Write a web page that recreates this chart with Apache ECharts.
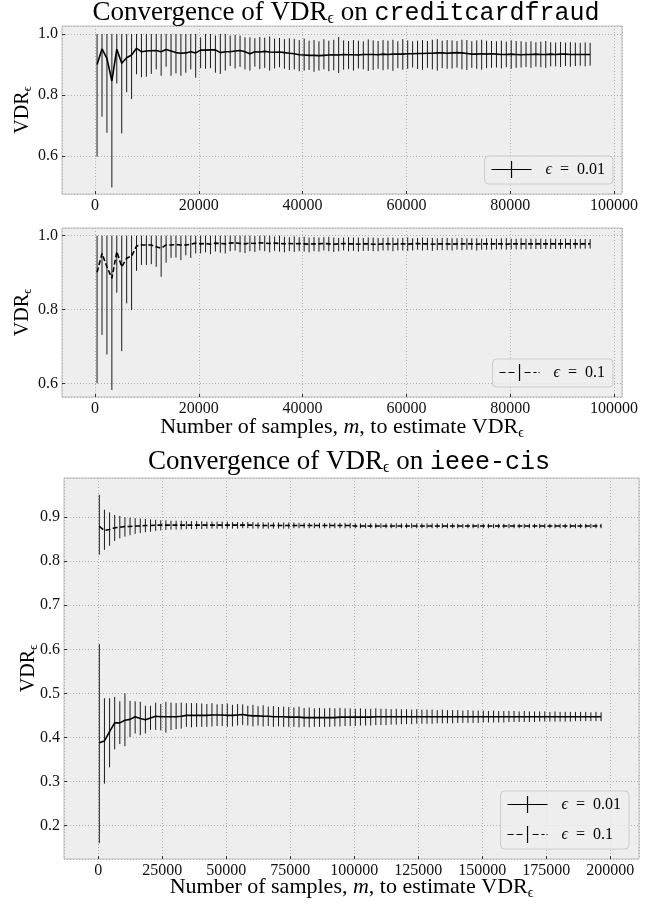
<!DOCTYPE html>
<html><head><meta charset="utf-8">
<script src="https://cdn.jsdelivr.net/npm/echarts@6/dist/echarts.min.js"></script>
<style>html,body{margin:0;padding:0;background:#fff}#chart{width:662px;height:904px}</style>
</head><body><div id="chart"></div>
<script>
// ---------- DATA ----------
// creditcardfraud: sample counts m
const xCredit = [
400,1350,2300,3250,4200,5150,6100,7050,8000,8950,
9900,10850,11800,12750,13700,14650,15600,16550,17500,18450,
19400,20350,21300,22250,23200,24150,25100,26050,27000,27950,
28900,29850,30800,31750,32700,33650,34600,35550,36500,37450,
38400,39350,40300,41250,42200,43150,44100,45050,46000,46950,
47900,48850,49800,50750,51700,52650,53600,54550,55500,56450,
57400,58350,59300,60250,61200,62150,63100,64050,65000,65950,
66900,67850,68800,69750,70700,71650,72600,73550,74500,75450,
76400,77350,78300,79250,80200,81150,82100,83050,84000,84950,
85900,86850,87800,88750,89700,90650,91600,92550,93500,94450,
95400];
// creditcardfraud, eps = 0.01
const creditE001Mean = [
0.900,0.951,0.920,0.846,0.950,0.904,0.922,0.931,0.953,0.942,
0.944,0.945,0.946,0.942,0.949,0.944,0.939,0.937,0.938,0.942,
0.938,0.947,0.947,0.948,0.948,0.939,0.942,0.942,0.944,0.946,
0.942,0.935,0.942,0.941,0.943,0.941,0.940,0.941,0.939,0.937,
0.935,0.932,0.931,0.930,0.930,0.929,0.930,0.931,0.932,0.931,
0.933,0.932,0.932,0.931,0.933,0.933,0.933,0.932,0.934,0.933,
0.934,0.934,0.934,0.935,0.935,0.936,0.936,0.937,0.937,0.938,
0.938,0.937,0.938,0.939,0.938,0.936,0.934,0.934,0.935,0.934,
0.935,0.934,0.933,0.933,0.934,0.933,0.932,0.933,0.933,0.934,
0.933,0.933,0.934,0.933,0.934,0.934,0.933,0.933,0.933,0.933,
0.933];
const creditE001Low = [
0.598,0.729,0.676,0.497,0.838,0.674,0.809,0.787,0.868,0.858,
0.860,0.869,0.884,0.863,0.893,0.863,0.871,0.863,0.873,0.884,
0.857,0.888,0.886,0.888,0.873,0.869,0.880,0.895,0.887,0.892,
0.884,0.880,0.893,0.885,0.889,0.880,0.887,0.891,0.886,0.882,
0.884,0.878,0.880,0.882,0.876,0.880,0.884,0.878,0.881,0.872,
0.883,0.885,0.880,0.887,0.884,0.879,0.882,0.886,0.881,0.884,
0.879,0.888,0.883,0.886,0.890,0.885,0.883,0.889,0.884,0.880,
0.888,0.886,0.887,0.890,0.884,0.882,0.889,0.886,0.883,0.888,
0.889,0.890,0.887,0.891,0.886,0.889,0.890,0.892,0.889,0.893,
0.891,0.889,0.894,0.894,0.892,0.895,0.893,0.895,0.896,0.894,
0.896];
const creditE001High = [
1,1,1,1,1,1,1,1,1,1,
1,1,1,1,1,1,1,1,1,1,
1,0.989,1,1,0.995,1,1,0.995,0.997,0.995,
0.989,0.989,0.986,0.990,0.988,0.992,0.985,0.987,0.983,0.986,
0.984,0.980,0.985,0.978,0.980,0.976,0.983,0.978,0.981,0.990,
0.979,0.977,0.980,0.978,0.976,0.982,0.979,0.977,0.980,0.978,
0.981,0.976,0.983,0.979,0.976,0.978,0.980,0.977,0.981,0.983,
0.978,0.980,0.979,0.977,0.981,0.980,0.976,0.979,0.981,0.978,
0.977,0.976,0.978,0.975,0.979,0.977,0.976,0.974,0.976,0.973,
0.975,0.977,0.973,0.972,0.974,0.972,0.973,0.972,0.971,0.972,
0.971];
// creditcardfraud, eps = 0.1
const creditE01Mean = [
0.901,0.952,0.916,0.885,0.957,0.916,0.939,0.945,0.972,0.975,
0.975,0.975,0.970,0.966,0.975,0.975,0.976,0.975,0.975,0.977,
0.980,0.978,0.979,0.977,0.980,0.979,0.978,0.980,0.981,0.979,
0.978,0.980,0.979,0.981,0.980,0.979,0.980,0.979,0.978,0.979,
0.978,0.979,0.978,0.977,0.978,0.978,0.979,0.978,0.977,0.978,
0.979,0.978,0.978,0.977,0.978,0.978,0.977,0.977,0.978,0.978,
0.977,0.978,0.978,0.977,0.978,0.979,0.978,0.978,0.977,0.978,
0.978,0.978,0.977,0.978,0.978,0.978,0.978,0.977,0.978,0.978,
0.978,0.978,0.978,0.977,0.978,0.978,0.978,0.978,0.978,0.978,
0.978,0.978,0.978,0.978,0.978,0.978,0.978,0.978,0.978,0.978,
0.978];
const creditE01Low = [
0.601,0.732,0.679,0.583,0.846,0.688,0.817,0.799,0.905,0.921,
0.921,0.923,0.916,0.889,0.927,0.940,0.941,0.934,0.947,0.940,
0.952,0.952,0.955,0.950,0.957,0.954,0.952,0.958,0.960,0.955,
0.953,0.958,0.956,0.960,0.958,0.955,0.959,0.957,0.955,0.958,
0.956,0.958,0.957,0.955,0.958,0.957,0.960,0.958,0.956,0.958,
0.960,0.958,0.959,0.957,0.959,0.959,0.958,0.958,0.960,0.960,
0.958,0.960,0.960,0.959,0.960,0.962,0.960,0.961,0.959,0.961,
0.961,0.961,0.960,0.962,0.961,0.962,0.962,0.960,0.962,0.962,
0.962,0.963,0.963,0.962,0.963,0.963,0.963,0.963,0.964,0.964,
0.964,0.964,0.964,0.964,0.964,0.965,0.964,0.965,0.965,0.965,
0.965];
const creditE01High = [
1,1,1,1,1,1,1,1,1,1,
1,1,1,1,1,1,1,1,1,1,
1,1,1,1,1,1,1,1,1,1,
1,1,0.999,1,1,1,0.998,1,0.997,0.996,
0.998,0.996,0.997,0.995,0.996,0.995,0.996,0.997,0.995,0.994,
0.995,0.996,0.995,0.995,0.994,0.995,0.995,0.994,0.994,0.995,
0.995,0.993,0.994,0.995,0.993,0.994,0.995,0.994,0.994,0.993,
0.994,0.994,0.993,0.993,0.994,0.993,0.993,0.993,0.992,0.993,
0.993,0.992,0.993,0.993,0.992,0.992,0.993,0.992,0.992,0.992,
0.992,0.991,0.992,0.992,0.991,0.992,0.991,0.991,0.991,0.991,
0.991];
// ieee-cis: sample counts m
const xIeee = [
400,2400,4400,6400,8400,10400,12400,14400,16400,18400,
20400,22400,24400,26400,28400,30400,32400,34400,36400,38400,
40400,42400,44400,46400,48400,50400,52400,54400,56400,58400,
60400,62400,64400,66400,68400,70400,72400,74400,76400,78400,
80400,82400,84400,86400,88400,90400,92400,94400,96400,98400,
100400,102400,104400,106400,108400,110400,112400,114400,116400,118400,
120400,122400,124400,126400,128400,130400,132400,134400,136400,138400,
140400,142400,144400,146400,148400,150400,152400,154400,156400,158400,
160400,162400,164400,166400,168400,170400,172400,174400,176400,178400,
180400,182400,184400,186400,188400,190400,192400,194400,196400];
// ieee-cis, eps = 0.01
const ieeeE001Mean = [
0.388,0.392,0.413,0.433,0.433,0.439,0.441,0.447,0.443,0.440,
0.444,0.448,0.447,0.447,0.447,0.447,0.448,0.450,0.450,0.450,
0.450,0.450,0.451,0.451,0.451,0.450,0.450,0.451,0.452,0.450,
0.449,0.449,0.448,0.448,0.447,0.447,0.447,0.446,0.446,0.446,
0.445,0.445,0.445,0.445,0.445,0.445,0.445,0.446,0.446,0.446,
0.446,0.446,0.446,0.446,0.447,0.447,0.447,0.447,0.447,0.447,
0.447,0.447,0.447,0.447,0.447,0.447,0.447,0.447,0.447,0.447,
0.447,0.447,0.447,0.447,0.447,0.447,0.447,0.447,0.447,0.447,
0.447,0.447,0.447,0.447,0.447,0.447,0.447,0.447,0.447,0.447,
0.447,0.447,0.447,0.447,0.447,0.447,0.447,0.447,0.447];
const ieeeE001Low = [
0.160,0.295,0.332,0.373,0.385,0.380,0.401,0.409,0.405,0.409,
0.417,0.417,0.416,0.411,0.417,0.419,0.420,0.424,0.423,0.424,
0.424,0.424,0.425,0.426,0.426,0.424,0.425,0.427,0.428,0.427,
0.425,0.427,0.425,0.426,0.424,0.425,0.424,0.424,0.424,0.423,
0.424,0.423,0.424,0.424,0.424,0.424,0.425,0.425,0.426,0.426,
0.426,0.427,0.427,0.427,0.428,0.428,0.428,0.429,0.429,0.430,
0.430,0.430,0.431,0.431,0.431,0.431,0.432,0.432,0.432,0.432,
0.433,0.433,0.433,0.433,0.433,0.434,0.434,0.434,0.434,0.434,
0.435,0.435,0.435,0.435,0.435,0.435,0.436,0.436,0.436,0.436,
0.436,0.436,0.436,0.437,0.437,0.437,0.437,0.437,0.437];
const ieeeE001High = [
0.612,0.489,0.489,0.492,0.482,0.500,0.483,0.482,0.481,0.472,
0.472,0.479,0.476,0.481,0.479,0.478,0.479,0.478,0.478,0.478,
0.477,0.476,0.478,0.475,0.476,0.477,0.474,0.476,0.475,0.472,
0.474,0.471,0.473,0.470,0.471,0.469,0.470,0.469,0.468,0.470,
0.467,0.468,0.466,0.467,0.466,0.467,0.466,0.467,0.466,0.466,
0.465,0.466,0.465,0.465,0.466,0.465,0.465,0.464,0.465,0.464,
0.464,0.463,0.464,0.463,0.463,0.463,0.462,0.463,0.462,0.462,
0.462,0.461,0.462,0.461,0.461,0.461,0.460,0.461,0.460,0.460,
0.460,0.460,0.459,0.460,0.459,0.459,0.459,0.459,0.458,0.459,
0.458,0.458,0.458,0.458,0.458,0.458,0.457,0.458,0.457];
// ieee-cis, eps = 0.1
const ieeeE01Mean = [
0.879,0.870,0.872,0.876,0.877,0.879,0.879,0.880,0.880,0.881,
0.881,0.882,0.882,0.882,0.882,0.882,0.882,0.882,0.882,0.882,
0.882,0.882,0.882,0.882,0.882,0.882,0.882,0.882,0.882,0.882,
0.882,0.881,0.881,0.881,0.881,0.881,0.881,0.881,0.881,0.881,
0.881,0.881,0.881,0.881,0.881,0.881,0.881,0.881,0.881,0.881,
0.880,0.880,0.880,0.880,0.880,0.880,0.880,0.880,0.880,0.880,
0.880,0.880,0.880,0.880,0.880,0.880,0.880,0.880,0.880,0.880,
0.880,0.880,0.880,0.880,0.880,0.880,0.880,0.880,0.880,0.880,
0.880,0.880,0.880,0.880,0.880,0.880,0.880,0.880,0.880,0.880,
0.880,0.880,0.880,0.880,0.880,0.880,0.880,0.880,0.880];
const ieeeE01Low = [
0.815,0.826,0.835,0.846,0.852,0.856,0.859,0.862,0.864,0.866,
0.867,0.869,0.870,0.871,0.872,0.872,0.872,0.873,0.873,0.873,
0.873,0.874,0.874,0.874,0.874,0.874,0.874,0.874,0.875,0.875,
0.874,0.874,0.874,0.874,0.874,0.874,0.874,0.874,0.875,0.875,
0.875,0.875,0.875,0.875,0.875,0.875,0.875,0.875,0.875,0.875,
0.875,0.875,0.875,0.875,0.875,0.875,0.875,0.875,0.875,0.875,
0.875,0.875,0.875,0.875,0.875,0.875,0.875,0.875,0.875,0.875,
0.875,0.875,0.875,0.875,0.875,0.875,0.875,0.875,0.875,0.875,
0.875,0.875,0.875,0.875,0.875,0.875,0.875,0.875,0.875,0.875,
0.875,0.875,0.875,0.875,0.875,0.875,0.875,0.875,0.875];
const ieeeE01High = [
0.951,0.917,0.911,0.905,0.903,0.900,0.899,0.898,0.897,0.896,
0.895,0.894,0.893,0.893,0.892,0.892,0.892,0.891,0.891,0.891,
0.891,0.890,0.890,0.890,0.890,0.890,0.889,0.889,0.889,0.889,
0.889,0.888,0.888,0.888,0.888,0.888,0.888,0.888,0.888,0.887,
0.887,0.887,0.887,0.887,0.887,0.887,0.887,0.887,0.887,0.887,
0.886,0.886,0.886,0.886,0.886,0.886,0.886,0.886,0.886,0.886,
0.886,0.886,0.886,0.886,0.886,0.886,0.886,0.886,0.886,0.886,
0.885,0.885,0.885,0.885,0.885,0.885,0.885,0.885,0.885,0.885,
0.885,0.885,0.885,0.885,0.885,0.885,0.885,0.885,0.885,0.885,
0.885,0.885,0.885,0.885,0.885,0.885,0.885,0.885,0.885];
const legendNames = ['ϵ = 0.01', 'ϵ = 0.1'];

// ---------- STYLE ----------
const SERIF = '"Liberation Serif","Times New Roman",serif';
const MONO = '"Liberation Mono","DejaVu Sans Mono",monospace';
const ICON_SOLID = 'path://M0,7.9H40V9.1H0Z M19.4,0H20.6V17H19.4Z';
const ICON_DASH = 'path://M0,7.9H6V9.1H0Z M9,7.9H15V9.1H9Z M19.4,0H20.6V17H19.4Z M25,7.9H31V9.1H25Z M34,7.9H37V9.1H34Z M39,7.9H40V9.1H39Z';

function pairs(x, y) { const n = Math.min(x.length, y.length); const r = []; for (let i = 0; i < n; i++) r.push([x[i], y[i]]); return r; }
function triples(x, a, b) { const n = Math.min(x.length, a.length, b.length); const r = []; for (let i = 0; i < n; i++) r.push([x[i], a[i], b[i]]); return r; }

function errItem(params, api) {
  const x = api.value(0), lo = api.value(1), hi = api.value(2);
  const p = api.coord([x, lo]), q = api.coord([x, hi]);
  return { type: 'line', shape: { x1: p[0], y1: p[1], x2: q[0], y2: q[1] }, style: { stroke: '#1a1a1a', lineWidth: 1 } };
}

const nameRich = {
  a: { fontFamily: SERIF, fontSize: 22, fontWeight: 'normal', color: '#000' },
  i: { fontFamily: SERIF, fontSize: 22, fontWeight: 'normal', fontStyle: 'italic', color: '#000' },
  s: { fontFamily: SERIF, fontSize: 14, fontWeight: 'normal', color: '#000', padding: [11, 0, 0, 0] }
};
const yNameRich = {
  a: { fontFamily: SERIF, fontSize: 20, fontWeight: 'normal', color: '#000' },
  s: { fontFamily: SERIF, fontSize: 13, fontWeight: 'normal', color: '#000', padding: [10, 0, 0, 0] }
};
const titleRich = {
  a: { fontFamily: SERIF, fontSize: 27, fontWeight: 'normal', color: '#000' },
  s: { fontFamily: SERIF, fontSize: 16, fontWeight: 'normal', color: '#000', padding: [12, 0, 0, 0] },
  m: { fontFamily: MONO, fontSize: 25, fontWeight: 'normal', color: '#000' }
};

function makeGrid(left, top, width, height) {
  return { left, top, width, height, show: true, backgroundColor: '#eeeeee', borderColor: '#bcbcbc', borderWidth: 1,
    containLabel: false, outerBoundsMode: 'none' };
}
function makeX(gi, min, max, step, name, gap) {
  return {
    type: 'value', gridIndex: gi, min, max, minInterval: step, maxInterval: step, splitNumber: 5,
    axisLine: { show: false, onZero: false },
    axisTick: { show: true, inside: true, length: 3, interval: 0, lineStyle: { color: '#333', width: 1 } },
    axisLabel: { show: true, interval: 0, showMinLabel: false, showMaxLabel: false, margin: 4, fontFamily: SERIF, fontSize: 16, color: '#111', formatter: v => String(v) },
    splitLine: { show: true, lineStyle: { color: '#b2b2b2', type: [1, 2], width: 1 } },
    name: name || '', nameLocation: 'middle', nameGap: gap, nameMoveOverlap: false,
    nameTextStyle: { rich: nameRich }
  };
}
function makeY(gi, min, max, step, gap) {
  return {
    type: 'value', gridIndex: gi, min, max, minInterval: step, maxInterval: step, splitNumber: 5,
    axisLine: { show: false, onZero: false },
    axisTick: { show: true, inside: true, length: 3, interval: 0, lineStyle: { color: '#333', width: 1 } },
    axisLabel: { show: true, interval: 0, showMinLabel: false, showMaxLabel: false, margin: 4, fontFamily: SERIF, fontSize: 16, color: '#111', formatter: v => v.toFixed(1) },
    splitLine: { show: true, lineStyle: { color: '#b2b2b2', type: [1, 2], width: 1 } },
    name: '{a|VDR}{s|ϵ}', nameLocation: 'middle', nameRotate: 90, nameGap: gap, nameMoveOverlap: false,
    nameTextStyle: { rich: yNameRich }
  };
}
const xName = '{a|Number of samples, }{i|m}{a|, to estimate VDR}{s|ϵ}';

function lineSeries(name, xi, data, dashed) {
  return { type: 'line', name, xAxisIndex: xi, yAxisIndex: xi, data, showSymbol: false, symbol: 'none',
    lineStyle: { color: '#000', width: 1.6, type: dashed ? [5, 2.5] : 'solid' }, itemStyle: { color: '#000' },
    z: 4, animation: false, silent: true };
}
function errSeries(name, xi, data) {
  return { type: 'custom', name, xAxisIndex: xi, yAxisIndex: xi, data, renderItem: errItem,
    encode: { x: 0, y: [1, 2] }, z: 3, animation: false, silent: true };
}

const legendBase = {
  backgroundColor: 'rgba(238,238,238,0.8)', borderColor: '#cccccc', borderWidth: 1, borderRadius: 4,
  padding: [5, 8, 6, 7], itemWidth: 40, itemHeight: 17, itemGap: 13, selectedMode: false,
  itemStyle: { borderWidth: 0 },
  textStyle: { fontFamily: SERIF, fontSize: 16, color: '#000',
    rich: { e: { fontFamily: SERIF, fontSize: 16, fontStyle: 'italic', color: '#000', padding: [0, 0, 0, 9] },
            t: { fontFamily: SERIF, fontSize: 16, color: '#000' } } },
  formatter: n => '{e|ϵ}{t|' + n.slice(1).replace(' = ', '\u2002=\u2002') + '}'
};

const option = {
  animation: false,
  backgroundColor: '#ffffff',
  title: [
    { text: '{a|Convergence of VDR}{s|ϵ}{a| on }{m|creditcardfraud}', left: 346, top: -1, textAlign: 'center', padding: 0, textStyle: { fontWeight: 'normal', rich: titleRich } },
    { text: '{a|Convergence of VDR}{s|ϵ}{a| on }{m|ieee-cis}', left: 349, top: 448, textAlign: 'center', padding: 0, textStyle: { fontWeight: 'normal', rich: titleRich } }
  ],
  grid: [makeGrid(62, 26, 560, 168), makeGrid(62, 228, 560, 169), makeGrid(64, 478, 575, 381)],
  xAxis: [makeX(0, -6358, 101541, 20000, '', 18), makeX(1, -6358, 101541, 20000, xName, 18), makeX(2, -13398, 211211, 25000, xName, 16)],
  yAxis: [makeY(0, 0.4754, 1.0262, 0.2, 28), makeY(1, 0.564, 1.0208, 0.2, 28), makeY(2, 0.124, 0.989, 0.1, 24)],
  legend: [
    Object.assign({}, legendBase, { data: [{ name: legendNames[0], icon: ICON_SOLID }], right: 49, top: 156 }),
    Object.assign({}, legendBase, { data: [{ name: legendNames[1], icon: ICON_DASH }], right: 49, top: 359 }),
    Object.assign({}, legendBase, { orient: 'vertical', data: [{ name: legendNames[0], icon: ICON_SOLID }, { name: legendNames[1], icon: ICON_DASH }], right: 33, top: 791 })
  ],
  series: [
    errSeries('err credit 0.01', 0, triples(xCredit, creditE001Low, creditE001High)),
    lineSeries(legendNames[0], 0, pairs(xCredit, creditE001Mean), false),
    errSeries('err credit 0.1', 1, triples(xCredit, creditE01Low, creditE01High)),
    lineSeries(legendNames[1], 1, pairs(xCredit, creditE01Mean), true),
    errSeries('err ieee 0.01', 2, triples(xIeee, ieeeE001Low, ieeeE001High)),
    lineSeries(legendNames[0], 2, pairs(xIeee, ieeeE001Mean), false),
    errSeries('err ieee 0.1', 2, triples(xIeee, ieeeE01Low, ieeeE01High)),
    lineSeries(legendNames[1], 2, pairs(xIeee, ieeeE01Mean), true)
  ]
};
const chart = echarts.init(document.getElementById('chart'), null, { renderer: 'canvas' });
chart.setOption(option);
</script>
</body></html>
